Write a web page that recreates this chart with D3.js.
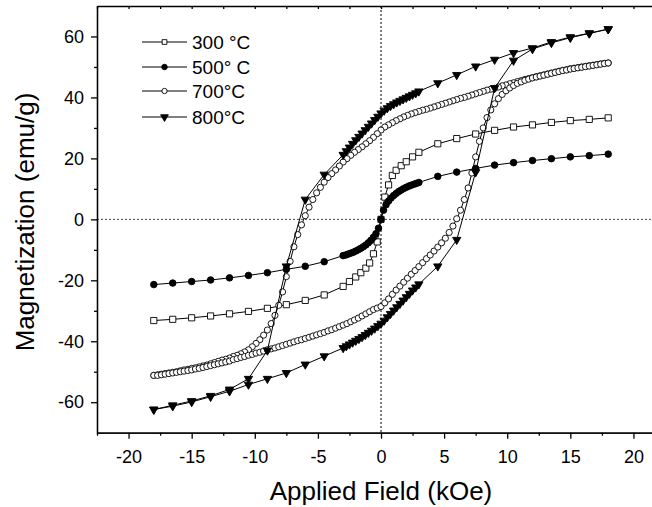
<!DOCTYPE html>
<html>
<head>
<meta charset="utf-8">
<script src="https://d3js.org/d3.v7.min.js"></script>
<style>
  body { margin: 0; background: #fff; }
  svg { display: block; font-family: "Liberation Sans", Arial, sans-serif; }
  .axis path, .axis line { stroke: #000; stroke-width: 1.3px; }
  .axis text { font-size: 18px; fill: #000; }
</style>
</head>
<body>
<div id="chart-area"></div>
<script>
// ---- data ----
var legendLabels = ["300 °C", "500° C", "700°C", "800°C"];
var xTicks = [-20, -15, -10, -5, 0, 5, 10, 15, 20];
var xMinorTicks = [-22.5, -17.5, -12.5, -7.5, -2.5, 2.5, 7.5, 12.5, 17.5, 22.5];
var yTicks = [-60, -40, -20, 0, 20, 40, 60];
var yMinorTicks = [-50, -30, -10, 10, 30, 50];

// 300 °C (single sweep)
var field300 = [-18, -16.5, -15, -13.5, -12, -10.5, -9, -7.5, -6, -4.5, -3,
  -2.5, -2, -1.6, -1.2, -0.9, -0.6, -0.3, 0, 0.3, 0.6, 0.9, 1.2, 1.6, 2, 2.5, 3,
  4.5, 6, 7.5, 9, 10.5, 12, 13.5, 15, 16.5, 18];
var mag300 = [-33.2, -32.8, -32.3, -31.7, -31.0, -30.2, -29.2, -28.0, -26.6, -24.8, -22.0,
  -20.4, -18.9, -17.5, -16.0, -14.3, -11.3, -7.4, 0, 7.3, 11.3, 14.4, 16.1, 17.6, 18.9, 20.5, 22.0,
  24.8, 26.5, 28.0, 29.2, 30.3, 31.0, 31.8, 32.4, 32.8, 33.3];

// 500 °C (single sweep)
var field500 = [-18, -16.5, -15, -13.5, -12, -10.5, -9, -7.5, -6, -4.5, -3,
  -2.8, -2.6, -2.4, -2.2, -2, -1.8, -1.6, -1.4, -1.2, -1, -0.8, -0.6, -0.4, -0.2, 0,
  0.2, 0.4, 0.6, 0.8, 1, 1.2, 1.4, 1.6, 1.8, 2, 2.2, 2.4, 2.6, 2.8, 3,
  4.5, 6, 7.5, 9, 10.5, 12, 13.5, 15, 16.5, 18];
var mag500 = [-21.4, -20.9, -20.4, -19.9, -19.2, -18.4, -17.5, -16.4, -15.4, -13.9, -11.9,
  -11.7, -11.4, -11.1, -10.8, -10.4, -10.0, -9.5, -9.0, -8.4, -7.7, -6.9, -5.9, -4.7, -2.9, 0,
  3.0, 4.8, 6.0, 7.0, 7.8, 8.5, 9.1, 9.6, 10.1, 10.5, 10.9, 11.2, 11.5, 11.8, 12.1,
  14.1, 15.5, 16.7, 17.8, 18.6, 19.3, 19.9, 20.5, 20.9, 21.4];

// 700 °C loop, both branches on the same field grid
var field700 = [-18, -17.7, -17.4, -17.1, -16.8, -16.5, -16.2, -15.9, -15.6, -15.3, -15,
  -14.7, -14.4, -14.1, -13.8, -13.5, -13.2, -12.9, -12.6, -12.3, -12,
  -11.7, -11.4, -11.1, -10.8, -10.5, -10.2, -9.9, -9.6, -9.3, -9,
  -8.7, -8.4, -8.1, -7.8, -7.5, -7.2, -6.9, -6.6, -6.3, -6,
  -5.7, -5.4, -5.1, -4.8, -4.5, -4.2, -3.9, -3.6, -3.3, -3,
  -2.7, -2.4, -2.1, -1.8, -1.5, -1.2, -0.9, -0.6, -0.3, 0,
  0.3, 0.6, 0.9, 1.2, 1.5, 1.8, 2.1, 2.4, 2.7, 3,
  3.3, 3.6, 3.9, 4.2, 4.5, 4.8, 5.1, 5.4, 5.7, 6,
  6.3, 6.6, 6.9, 7.2, 7.5, 7.8, 8.1, 8.4, 8.7, 9,
  9.3, 9.6, 9.9, 10.2, 10.5, 10.8, 11.1, 11.4, 11.7, 12,
  12.3, 12.6, 12.9, 13.2, 13.5, 13.8, 14.1, 14.4, 14.7, 15,
  15.3, 15.6, 15.9, 16.2, 16.5, 16.8, 17.1, 17.4, 17.7, 18];
// descending-field branch
var up700 = [-51.2, -51.0, -50.8, -50.6, -50.4, -50.2, -50.0, -49.7, -49.4, -49.2, -48.9,
  -48.7, -48.4, -48.1, -47.8, -47.4, -47.0, -46.6, -46.2, -45.9, -45.5,
  -45.0, -44.6, -44.1, -43.5, -42.8, -41.8, -40.7, -39.5, -38.0, -36.3,
  -34.2, -31.5, -28.2, -23.8, -18.8, -13.8, -9.0, -5.0, -1.8, 1.2,
  4.0, 6.5, 8.7, 10.5, 12.2, 13.7, 15.0, 16.2, 17.5, 18.8,
  19.9, 21.0, 22.0, 22.9, 23.8, 24.8, 25.8, 26.9, 28.1, 29.3,
  30.3, 31.0, 31.7, 32.4, 33.0, 33.6, 34.1, 34.6, 35.0, 35.4,
  35.8, 36.1, 36.5, 36.9, 37.3, 37.7, 38.1, 38.5, 38.9, 39.3,
  39.7, 40.0, 40.4, 40.8, 41.2, 41.6, 42.0, 42.4, 42.7, 43.0,
  43.4, 43.8, 44.1, 44.5, 44.8, 45.2, 45.5, 45.9, 46.2, 46.5,
  46.8, 47.1, 47.4, 47.7, 48.0, 48.3, 48.6, 48.9, 49.1, 49.4,
  49.6, 49.8, 50.0, 50.2, 50.4, 50.6, 50.8, 51.0, 51.2, 51.3];
// ascending-field branch
var down700 = [-51.2, -51.2, -51.0, -50.8, -50.6, -50.4, -50.2, -50.0, -49.8, -49.6, -49.4,
  -49.1, -48.9, -48.6, -48.3, -48.0, -47.7, -47.4, -47.1, -46.8, -46.5,
  -46.0, -45.7, -45.3, -45.0, -44.6, -44.3, -43.9, -43.6, -43.2, -42.8,
  -42.5, -42.2, -41.8, -41.4, -41.0, -40.6, -40.2, -39.8, -39.5, -39.1,
  -38.7, -38.3, -37.9, -37.5, -37.1, -36.6, -36.2, -35.7, -35.2, -34.7,
  -34.2, -33.6, -33.0, -32.4, -31.7, -31.0, -30.3, -29.6, -29.1, -28.6,
  -27.4, -26.1, -24.6, -23.2, -21.9, -20.6, -19.3, -18.0, -16.8, -15.5,
  -14.2, -12.9, -11.7, -10.4, -9.1, -7.7, -6.2, -4.3, -2.2, 0.2,
  3.0, 6.5, 10.3, 15.2, 20.5, 25.6, 30.0, 33.4, 35.9, 37.9,
  39.6, 41.0, 42.2, 43.1, 43.9, 44.6, 45.1, 45.6, 46.0, 46.4,
  46.7, 47.0, 47.3, 47.6, 47.9, 48.2, 48.5, 48.8, 49.0, 49.3,
  49.5, 49.7, 49.9, 50.1, 50.3, 50.5, 50.7, 50.9, 51.1, 51.3];

// 800 °C loop
var fieldUp800 = [18, 16.5, 15, 13.5, 12, 10.5, 9, 7.5, 6, 4.5, 3,
  2.75, 2.5, 2.25, 2, 1.75, 1.5, 1.25, 1, 0.75, 0.5, 0.25, 0,
  -0.25, -0.5, -0.75, -1, -1.25, -1.5, -1.75, -2, -2.25, -2.5, -2.75, -3,
  -4.5, -6, -7.5, -9, -10.5, -12, -13.5, -15, -16.5, -18];
var magUp800 = [62.4, 61.1, 59.8, 58.2, 56.2, 54.6, 52.4, 50.2, 47.4, 44.7, 42.0,
  41.4, 40.9, 40.4, 39.9, 39.4, 38.9, 38.4, 37.8, 37.2, 36.5, 35.7, 34.8,
  33.7, 32.6, 31.5, 30.4, 29.3, 28.2, 27.1, 26.0, 24.8, 23.6, 22.4, 21.2,
  14.7, 6.5, -15.4, -43.0, -52.3, -55.8, -57.9, -59.6, -61.0, -62.4];
var fieldDown800 = [-18, -16.5, -15, -13.5, -12, -10.5, -9, -7.5, -6, -4.5, -3,
  -2.75, -2.5, -2.25, -2, -1.75, -1.5, -1.25, -1, -0.75, -0.5, -0.25, 0,
  0.25, 0.5, 0.75, 1, 1.25, 1.5, 1.75, 2, 2.25, 2.5, 2.75, 3,
  4.5, 6, 7.5, 9, 10.5, 12, 13.5, 15, 16.5, 18];
var magDown800 = [-62.4, -61.3, -59.9, -58.2, -56.4, -54.2, -52.3, -50.4, -47.6, -44.9, -42.2,
  -41.6, -41.0, -40.4, -39.8, -39.2, -38.6, -37.9, -37.2, -36.5, -35.8, -35.0, -34.2,
  -33.2, -32.1, -31.0, -29.9, -28.8, -27.7, -26.6, -25.5, -24.4, -23.3, -22.3, -21.3,
  -15.4, -6.7, 15.5, 43.1, 52.1, 55.9, 57.9, 59.6, 61.0, 62.4];

// ---- layout ----
var W = 652, H = 507;
var plot = {left: 97, right: 665, top: 6, bottom: 432.7};

var svg = d3.select("#chart-area")
  .append("svg")
    .attr("width", W)
    .attr("height", H);

var x = d3.scaleLinear().domain([-22.5, 22.5]).range([plot.left, plot.right]);
var y = d3.scaleLinear().domain([-70, 70]).range([plot.bottom, plot.top]);

function pairs(xs, ys) {
  return xs.map(function(d, i) { return {x: d, y: ys[i]}; });
}

var line = d3.line()
  .x(function(d) { return x(d.x); })
  .y(function(d) { return y(d.y); });

//zero reference lines
svg.append("line")
  .attr("x1", x(0)).attr("x2", x(0))
  .attr("y1", plot.top).attr("y2", plot.bottom)
  .attr("stroke", "#000").attr("stroke-width", 1)
  .attr("stroke-dasharray", "2,2");
svg.append("line")
  .attr("x1", plot.left).attr("x2", plot.right)
  .attr("y1", y(0)).attr("y2", y(0))
  .attr("stroke", "#444").attr("stroke-width", 1)
  .attr("stroke-dasharray", "2,2");

// series definitions
var sq = d3.symbol().type(d3.symbolSquare).size(38);
var circ = d3.symbol().type(d3.symbolCircle).size(34);
var circOpen = d3.symbol().type(d3.symbolCircle).size(30);
var tri = d3.symbol().type(d3.symbolTriangle).size(30);

var series = [
  {branches: [pairs(field300, mag300)], sym: sq, fill: "#fff", rot: 0},
  {branches: [pairs(field500, mag500)], sym: circ, fill: "#000", rot: 0},
  {branches: [pairs(field700, up700).reverse(), pairs(field700, down700)], sym: circOpen, fill: "#fff", rot: 0},
  {branches: [pairs(fieldUp800, magUp800), pairs(fieldDown800, magDown800)], sym: tri, fill: "#000", rot: 180}
];

series.forEach(function(s) {
  var g = svg.append("g");
  s.branches.forEach(function(b) {
    g.append("path")
      .attr("fill", "none")
      .attr("stroke", "#000")
      .attr("stroke-width", 1)
      .attr("d", line(b));
  });
  s.branches.forEach(function(b) {
    g.selectAll(null)
      .data(b)
      .enter().append("path")
        .attr("d", s.sym)
        .attr("transform", function(d) {
          return "translate(" + x(d.x) + "," + y(d.y) + ") rotate(" + s.rot + ")";
        })
        .attr("fill", s.fill)
        .attr("stroke", "#000")
        .attr("stroke-width", 0.9);
  });
});

// ---- axes ----
var fmt = function(d) { return String(d); };

svg.append("g").attr("class", "axis")
  .attr("transform", "translate(0," + plot.bottom + ")")
  .call(d3.axisBottom(x).tickValues(xTicks).tickSize(6).tickSizeOuter(0).tickPadding(12).tickFormat(fmt));
svg.append("g").attr("class", "axis")
  .attr("transform", "translate(0," + plot.bottom + ")")
  .call(d3.axisBottom(x).tickValues(xMinorTicks).tickSize(3).tickSizeOuter(0).tickFormat(""));

svg.append("g").attr("class", "axis")
  .attr("transform", "translate(0," + plot.top + ")")
  .call(d3.axisTop(x).tickValues(xTicks.concat(xMinorTicks)).tickSize(-3).tickSizeOuter(0).tickFormat(""));

svg.append("g").attr("class", "axis")
  .attr("transform", "translate(" + plot.left + ",0)")
  .call(d3.axisLeft(y).tickValues(yTicks).tickSize(6).tickSizeOuter(0).tickPadding(7).tickFormat(fmt));
svg.append("g").attr("class", "axis")
  .attr("transform", "translate(" + plot.left + ",0)")
  .call(d3.axisLeft(y).tickValues(yMinorTicks).tickSize(3).tickSizeOuter(0).tickFormat(""));

// axis titles
svg.append("text")
  .attr("x", 381).attr("y", 500)
  .attr("text-anchor", "middle")
  .style("font-size", "26px")
  .text("Applied Field (kOe)");
svg.append("text")
  .attr("transform", "translate(34,222) rotate(-90)")
  .attr("text-anchor", "middle")
  .style("font-size", "26px")
  .text("Magnetization (emu/g)");

// ---- legend ----
var legendSyms = [
  d3.symbol().type(d3.symbolSquare).size(22),
  d3.symbol().type(d3.symbolCircle).size(24),
  d3.symbol().type(d3.symbolCircle).size(22),
  d3.symbol().type(d3.symbolTriangle).size(26)
];
var legendFill = ["#fff", "#000", "#fff", "#000"];
var legendRot = [0, 0, 0, 180];
var legendY = [42, 67, 91, 117];

var legend = svg.append("g");
legendLabels.forEach(function(lab, i) {
  var row = legend.append("g").attr("transform", "translate(0," + legendY[i] + ")");
  row.append("line")
    .attr("x1", 142).attr("x2", 187)
    .attr("stroke", "#000").attr("stroke-width", 1);
  row.append("path")
    .attr("d", legendSyms[i])
    .attr("transform", "translate(164.5,0) rotate(" + legendRot[i] + ")")
    .attr("fill", legendFill[i])
    .attr("stroke", "#000")
    .attr("stroke-width", 0.9);
  row.append("text")
    .attr("x", 192).attr("dy", "0.36em")
    .style("font-size", "19px")
    .text(lab);
});
</script>
</body>
</html>
